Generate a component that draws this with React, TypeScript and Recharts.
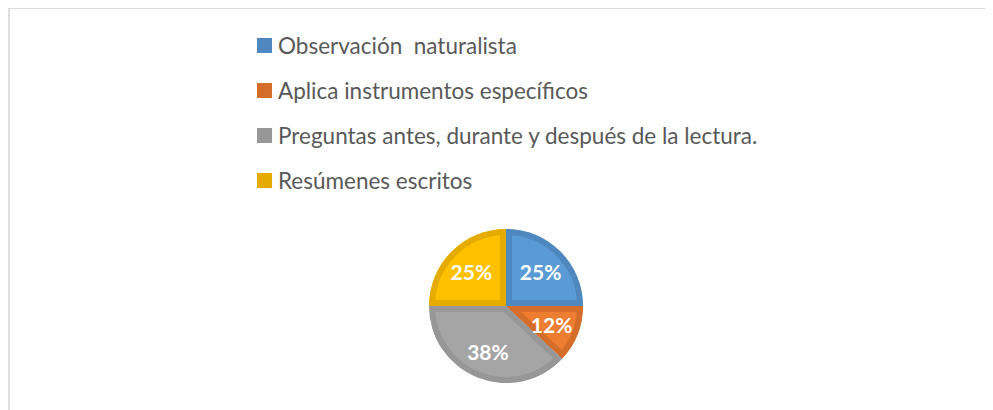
import React from 'react'
import { PieChart, Pie, Legend, Sector } from 'recharts'

const categories = [
  'Observación  naturalista',
  'Aplica instrumentos específicos',
  'Preguntas antes, durante y después de la lectura.',
  'Resúmenes escritos',
]
const percents = [25, 12, 38, 25]
const borderColors = ['#4F87BF', '#D46D2A', '#979797', '#E5AB00']
const fillColors = ['#5B9BD5', '#ED7D31', '#A5A5A5', '#FFC000']

const data = categories.map((name, i) => ({ name, value: percents[i] }))

const RADIAN = Math.PI / 180

function SliceShape(props: any) {
  const { cx, cy, innerRadius, outerRadius, startAngle, endAngle, index } = props
  const geom = { cx, cy, innerRadius, outerRadius, startAngle, endAngle }
  const id = `slice-clip-${index}`
  return (
    <g>
      <defs>
        <clipPath id={id}>
          <Sector {...geom} />
        </clipPath>
      </defs>
      <g clipPath={`url(#${id})`}>
        <Sector
          {...geom}
          fill={fillColors[index]}
          stroke={borderColors[index]}
          strokeWidth={12}
          strokeLinejoin="round"
        />
      </g>
    </g>
  )
}

function SliceLabel(props: any) {
  const { cx, cy, midAngle, index } = props
  const r = 49
  const x = cx + r * Math.cos(-midAngle * RADIAN)
  const y = cy + r * Math.sin(-midAngle * RADIAN)
  return (
    <text
      x={x}
      y={y}
      fill="#FFFFFF"
      textAnchor="middle"
      dominantBaseline="central"
      fontFamily="Lato, 'Open Sans', sans-serif"
      fontWeight="bold"
      fontSize={21}
    >
      {percents[index]}%
    </text>
  )
}

function LegendList() {
  return (
    <div style={{ fontFamily: "Lato, 'Open Sans', sans-serif", fontSize: 22.5, color: '#595959' }}>
      {categories.map((c, i) => (
        <div key={c} style={{ display: 'flex', alignItems: 'center', height: 45, whiteSpace: 'pre' }}>
          <span
            style={{
              display: 'inline-block',
              width: 15,
              height: 15,
              background: borderColors[i],
              marginRight: 6,
            }}
          />
          <span>{c}</span>
        </div>
      ))}
    </div>
  )
}

export default function App() {
  return (
    <div
      style={{
        marginTop: -1,
        width: 985,
        height: 403,
        borderTop: '2px solid #DEDEDE',
        borderLeft: '2px solid #DEDEDE',
        boxSizing: 'border-box',
        background: '#FFFFFF',
      }}
    >
      <style>{'body{overflow:hidden}'}</style>
      <PieChart width={983} height={401}>
        <Legend
          content={<LegendList />}
          wrapperStyle={{ left: 247, top: 14, width: 'auto' }}
        />
        <Pie
          data={data}
          dataKey="value"
          nameKey="name"
          cx={491}
          cy={292}
          innerRadius={0}
          outerRadius={77}
          startAngle={90}
          endAngle={-270}
          stroke="none"
          shape={SliceShape}
          label={SliceLabel}
          labelLine={false}
          isAnimationActive={false}
        />
      </PieChart>
    </div>
  )
}
